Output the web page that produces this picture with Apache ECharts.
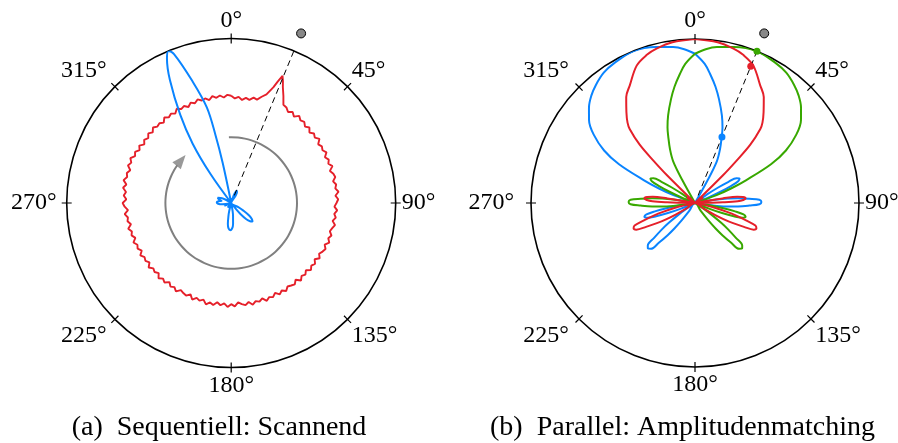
<!DOCTYPE html>
<html>
<head>
<meta charset="utf-8">
<script src="https://cdn.jsdelivr.net/npm/echarts@6/dist/echarts.min.js"></script>
<style>html,body{margin:0;padding:0;background:#fff}#chart{width:898px;height:443px}</style>
</head>
<body>
<div id="chart"></div>
<script>
// ---- tick labels & captions ----
const angleTickLabels = ['0°','45°','90°','135°','180°','225°','270°','315°'];
const captions = ['(a)\u2002Sequentiell: Scannend', '(b)\u2002Parallel: Amplitudenmatching'];

// ---- (a) sequential scanning: [angle deg, normalized amplitude] ----
const scanRed = [
[0,0.652],[2,0.636],[4,0.647],[6,0.630],[8,0.645],[10,0.637],[12,0.655],[14,0.648],[16,0.672],[18,0.694],
[20,0.748],[21,0.792],[22,0.833],[23,0.805],[24,0.772],[26,0.724],[28,0.676],[30,0.671],[32,0.652],[34,0.668],
[36,0.649],[38,0.672],[40,0.655],[42,0.664],[44,0.646],[46,0.661],[48,0.640],[50,0.657],[52,0.645],[54,0.663],
[56,0.638],[58,0.650],[60,0.641],[62,0.656],[64,0.634],[66,0.649],[68,0.637],[70,0.655],[72,0.631],[74,0.646],
[76,0.652],[78,0.633],[80,0.648],[82,0.639],[84,0.656],[86,0.635],[88,0.651],[90,0.640],[92,0.628],[94,0.646],
[96,0.630],[98,0.642],[100,0.626],[102,0.645],[104,0.633],[106,0.624],[108,0.641],[110,0.628],[112,0.643],[114,0.622],
[116,0.638],[118,0.629],[120,0.617],[122,0.634],[124,0.612],[126,0.630],[128,0.618],[130,0.633],[132,0.611],[134,0.627],
[136,0.616],[138,0.634],[140,0.609],[142,0.628],[144,0.620],[146,0.612],[148,0.631],[150,0.614],[152,0.629],[154,0.608],
[156,0.626],[158,0.617],[160,0.633],[162,0.610],[164,0.624],[166,0.615],[168,0.632],[170,0.611],[172,0.627],[174,0.618],
[176,0.606],[178,0.629],[180,0.615],[182,0.632],[184,0.612],[186,0.625],[188,0.609],[190,0.630],[192,0.618],[194,0.635],
[196,0.611],[198,0.624],[200,0.614],[202,0.633],[204,0.608],[206,0.626],[208,0.620],[210,0.612],[212,0.634],[214,0.617],
[216,0.628],[218,0.610],[220,0.631],[222,0.619],[224,0.636],[226,0.613],[228,0.627],[230,0.618],[232,0.637],[234,0.614],
[236,0.629],[238,0.621],[240,0.638],[242,0.616],[244,0.633],[246,0.624],[248,0.641],[250,0.620],[252,0.637],[254,0.628],
[256,0.645],[258,0.623],[260,0.640],[262,0.634],[264,0.651],[266,0.629],[268,0.648],[270,0.660],[272,0.638],[274,0.655],
[276,0.643],[278,0.664],[280,0.647],[282,0.669],[284,0.652],[286,0.660],[288,0.645],[290,0.668],[292,0.655],[294,0.671],
[296,0.650],[298,0.662],[300,0.643],[302,0.659],[304,0.637],[306,0.654],[308,0.640],[310,0.658],[312,0.642],[314,0.661],
[316,0.646],[318,0.652],[320,0.638],[322,0.660],[324,0.644],[326,0.655],[328,0.641],[330,0.662],[332,0.647],[334,0.656],
[336,0.639],[338,0.658],[340,0.645],[342,0.662],[344,0.648],[346,0.655],[348,0.640],[350,0.660],[352,0.646],[354,0.657],
[356,0.643],[358,0.658],[360,0.652]
];
const scanBlue = [
[0,0],[15,0],[17,0.035],[20,0.065],[24,0.082],[28,0.075],[31,0.05],[34,0],
[118,0],[120,0.05],[122,0.085],[125,0.135],[128,0.16],[131,0.172],[134,0.16],[137,0.135],[140,0.085],[142,0.05],[144,0],
[168,0],[170,0.05],[172,0.08],[175,0.13],[178,0.155],[182,0.165],[186,0.155],[189,0.13],[192,0.08],[194,0.05],[196,0],
[210,0],[218,0.035],[226,0],[240,0],[248,0.045],[256,0],
[259,0],[262,0.055],[267,0.08],[273,0.088],[278,0.078],[282,0.06],[286,0.075],[291,0.088],[296,0.07],[301,0],
[308,0],[313,0.035],[318,0],
[323,0],[324.5,0.22],[327,0.43],[330,0.62],[333.5,0.835],[336,0.96],[337.6,1.0],[339,0.97],[342.2,0.785],[345.7,0.6],[347,0.42],[348,0.25],[349,0],
[352,0],[356,0.03],[360,0]
];
const scanArrowAngles = [358,0,6,12,18,24,30,36,42,48,54,60,66,72,78,84,90,96,102,108,114,120,126,132,138,144,150,156,162,168,174,180,186,192,198,204,210,216,222,228,234,240,246,252,258,264,270,276,282,288,294,300,305];
const scanArrowRadius = 0.40;
const scanArrowHead = [310.4, 0.40];
const scanTarget = [22.4, 1.115];

// ---- (b) parallel amplitude matching ----
const parBlue = [
[0,0.91],[4,0.85],[7,0.785],[10,0.72],[13,0.65],[17,0.56],[20,0.49],[22,0.435],[25,0.36],[27.7,0.285],[29,0.16],[30.5,0],
[36,0],[40,0.05],[44,0],
[53.2,0],[54.7,0.093],[56.2,0.17],[57.7,0.242],[59.2,0.295],[61.2,0.31],[63.2,0.295],[64.7,0.242],[66.2,0.17],[67.7,0.093],[69.2,0],
[78.1,0],[79.1,0.061],[80.6,0.134],[82.1,0.2025],[83.6,0.263],[85.5,0.332],[87.1,0.393],[89.1,0.405],[91.1,0.393],[92.7,0.332],[94.6,0.263],[96.1,0.2025],[97.6,0.134],[99.1,0.061],[100.1,0],
[103,0],[108,0.05],[113,0],
[214.9,0],[215.9,0.06],[217.4,0.132],[218.9,0.2],[220.4,0.26],[222.3,0.328],[223.9,0.388],[225.9,0.4],[227.9,0.388],[229.5,0.328],[231.4,0.26],[232.9,0.2],[234.4,0.132],[235.9,0.06],[236.9,0],
[238,0],[241.5,0.045],[245,0],
[246.7,0],[248.2,0.096],[249.7,0.176],[251.2,0.25],[252.7,0.304],[254.7,0.32],[256.7,0.304],[258.2,0.25],[259.7,0.176],[261.2,0.096],[262.7,0],
[270,0],[275,0.05],[280,0],
[289,0],[290,0.14],[292,0.24],[294,0.34],[297,0.52],[300,0.64],[304,0.745],[308,0.82],[312,0.87],[316,0.91],[320,0.94],[325,0.97],[330,0.985],[338,1.0],[346,0.98],[352,0.96],[356,0.94],[360,0.91]
];
const parGreen = [
[0,0.91],[4,0.94],[8,0.96],[14,0.98],[22,1.0],[30,0.985],[35,0.97],[40,0.94],[44,0.91],[48,0.87],[52,0.82],[56,0.745],[60,0.64],[63,0.52],[66,0.34],[68,0.24],[70,0.14],[71,0],
[80,0],[85,0.05],[90,0],
[97.3,0],[98.8,0.096],[100.3,0.176],[101.8,0.25],[103.3,0.304],[105.3,0.32],[107.3,0.304],[108.8,0.25],[110.3,0.176],[111.8,0.096],[113.3,0],
[115,0],[118.5,0.045],[122,0],
[123.1,0],[124.1,0.06],[125.6,0.132],[127.1,0.2],[128.6,0.26],[130.5,0.328],[132.1,0.388],[134.1,0.4],[136.1,0.388],[137.7,0.328],[139.6,0.26],[141.1,0.2],[142.6,0.132],[144.1,0.06],[145.1,0],
[247,0],[252,0.05],[257,0],
[259.9,0],[260.9,0.061],[262.4,0.134],[263.9,0.2025],[265.4,0.263],[267.3,0.332],[268.9,0.393],[270.9,0.405],[272.9,0.393],[274.5,0.332],[276.4,0.263],[277.9,0.2025],[279.4,0.134],[280.9,0.061],[281.9,0],
[290.8,0],[292.3,0.093],[293.8,0.17],[295.3,0.242],[296.8,0.295],[298.8,0.31],[300.8,0.295],[302.3,0.242],[303.8,0.17],[305.3,0.093],[306.8,0],
[316,0],[320,0.05],[324,0],
[329.5,0],[331,0.16],[332.3,0.285],[335,0.36],[338,0.435],[340,0.49],[343,0.56],[347,0.65],[350,0.72],[353,0.785],[356,0.85],[360,0.91]
];
const parRed = [
[0,1.0],[8,0.99],[14,0.97],[18,0.95],[23,0.91],[29,0.82],[33,0.77],[37,0.695],[40,0.64],[41.5,0.6],[43.5,0.49],[44.5,0.36],[45.3,0.24],[46.5,0],
[52,0],[57,0.06],[62,0],
[79.6,0],[80.1,0.1],[80.6,0.17],[81.6,0.26],[82.8,0.295],[84.6,0.31],[86.4,0.295],[87.6,0.26],[88.6,0.17],[89.1,0.1],[89.6,0],
[101.4,0],[102.4,0.061],[103.9,0.134],[105.4,0.2025],[106.9,0.263],[108.8,0.332],[110.4,0.393],[112.4,0.405],[114.4,0.393],[116,0.332],[117.9,0.263],[119.4,0.2025],[120.9,0.134],[122.4,0.061],[123.4,0],
[236.6,0],[237.6,0.061],[239.1,0.134],[240.6,0.2025],[242.1,0.263],[244,0.332],[245.6,0.393],[247.6,0.405],[249.6,0.393],[251.2,0.332],[253.1,0.263],[254.6,0.2025],[256.1,0.134],[257.6,0.061],[258.6,0],
[270.4,0],[270.9,0.1],[271.4,0.17],[272.4,0.26],[273.6,0.295],[275.4,0.31],[277.2,0.295],[278.4,0.26],[279.4,0.17],[279.9,0.1],[280.4,0],
[298,0],[303,0.06],[308,0],
[313.5,0],[314.7,0.24],[315.5,0.36],[316.5,0.49],[318.5,0.6],[320,0.64],[323,0.695],[327,0.77],[331,0.82],[337,0.91],[342,0.95],[346,0.97],[352,0.99],[360,1.0]
];
const parTarget = [22.2, 1.117];
const parMatchAngle = 22.2;
const parMatchBlue = 0.435, parMatchRed = 0.90, parMatchGreen = 1.0;

// label right-padding (px) per tick, per plot (for right-aligned labels)
const scanLabelPad = [0,0,0,0,0,4,4,4];
const parLabelPad = [0,0,0,0,0,6,11,6];

// ---- styling ----
const BLUE = '#0a84ff', RED = '#e5202a', GREEN = '#38a800', GRAY = '#808080';
const toRA = arr => arr.map(p => [p[1], p[0]]);
const LABEL_FONT = { color: '#000', fontFamily: 'Liberation Serif', fontSize: 24 };

function angleAxis(i, inner, pads) {
  const rich = {};
  [0, 4, 6, 11].forEach(p => { rich['p' + p] = Object.assign({ padding: [0, p, 0, 0] }, LABEL_FONT); });
  return {
    polarIndex: i, type: 'value', min: 0, max: 360, interval: 45, startAngle: 90, clockwise: true,
    axisLine: { show: !inner, lineStyle: { color: '#000', width: 1.6 } },
    axisTick: { show: true, inside: inner, length: 5, lineStyle: { color: '#000', width: 1.2 } },
    axisLabel: Object.assign({
      show: !inner, margin: 6, rich: rich,
      formatter: v => {
        if (v >= 360) return '';
        const k = Math.round(v / 45);
        return '{p' + (pads ? pads[k] : 0) + '|' + angleTickLabels[k] + '}';
      }
    }, LABEL_FONT),
    splitLine: { show: false }, splitArea: { show: false }
  };
}
function radiusAxis(i) {
  return { polarIndex: i, type: 'value', min: 0, max: 1, axisLine: { show: false }, axisTick: { show: false },
    axisLabel: { show: false }, splitLine: { show: false }, splitArea: { show: false } };
}
function curve(pi, data, color, w, smooth) {
  return { type: 'line', coordinateSystem: 'polar', polarIndex: pi, data: toRA(data), showSymbol: false, symbol: 'none',
    smooth: smooth, clip: false, lineStyle: { color: color, width: w }, silent: true, z: 3 };
}
function dashed(pi, t) {
  return { type: 'line', coordinateSystem: 'polar', polarIndex: pi, data: [[0.05, t[0]], [t[1], t[0]]], symbol: 'none',
    clip: false, lineStyle: { color: '#000', width: 1, type: [6, 4] }, silent: true, z: 4 };
}
function dot(pi, r, a, color, size, border) {
  return { type: 'scatter', coordinateSystem: 'polar', polarIndex: pi, data: [[r, a]], symbolSize: size, clip: false,
    itemStyle: { color: color, borderColor: border ? '#000' : color, borderWidth: border ? 1 : 0, opacity: 1 }, silent: true, z: 6 };
}

const option = {
  animation: false,
  backgroundColor: '#fff',
  polar: [
    { center: [231.2, 203], radius: 164.5 },
    { center: [231.2, 203], radius: 164.5 },
    { center: [695, 203], radius: 164 },
    { center: [695, 203], radius: 164 }
  ],
  angleAxis: [angleAxis(0, false, scanLabelPad), angleAxis(1, true), angleAxis(2, false, parLabelPad), angleAxis(3, true)],
  radiusAxis: [radiusAxis(0), radiusAxis(1), radiusAxis(2), radiusAxis(3)],
  series: [
    // (a)
    { type: 'line', coordinateSystem: 'polar', polarIndex: 0, data: scanArrowAngles.map(a => [scanArrowRadius, a]),
      symbol: 'none', smooth: true, clip: false, lineStyle: { color: GRAY, width: 2 }, silent: true, z: 2 },
    { type: 'scatter', coordinateSystem: 'polar', polarIndex: 0, data: [[scanArrowHead[1], scanArrowHead[0]]],
      symbol: 'triangle', symbolSize: [11, 14], symbolRotate: -40, clip: false, itemStyle: { color: GRAY }, silent: true, z: 2 },
    curve(0, scanRed, RED, 1.9, false),
    curve(0, scanBlue, BLUE, 2, 0.35),
    dashed(0, scanTarget),
    dot(0, scanTarget[1], scanTarget[0], '#888', 9, true),
    // (b)
    curve(2, parBlue, BLUE, 2, 0.35),
    curve(2, parGreen, GREEN, 2, 0.35),
    curve(2, parRed, RED, 2, 0.35),
    dashed(2, parTarget),
    dot(2, parTarget[1], parTarget[0], '#888', 9, true),
    dot(2, parMatchGreen, parMatchAngle, GREEN, 7, false),
    dot(2, parMatchRed, parMatchAngle, RED, 7, false),
    dot(2, parMatchBlue, parMatchAngle, BLUE, 7, false)
  ],
  graphic: [
    { type: 'text', x: 219, y: 428, style: { text: captions[0], font: '28px "Liberation Serif"', fill: '#000', align: 'center', verticalAlign: 'middle' } },
    { type: 'text', x: 682.5, y: 428, style: { text: captions[1], font: '28px "Liberation Serif"', fill: '#000', align: 'center', verticalAlign: 'middle' } }
  ]
};
const chart = echarts.init(document.getElementById('chart'), null, { renderer: 'canvas' });
chart.setOption(option);
</script>
</body>
</html>
